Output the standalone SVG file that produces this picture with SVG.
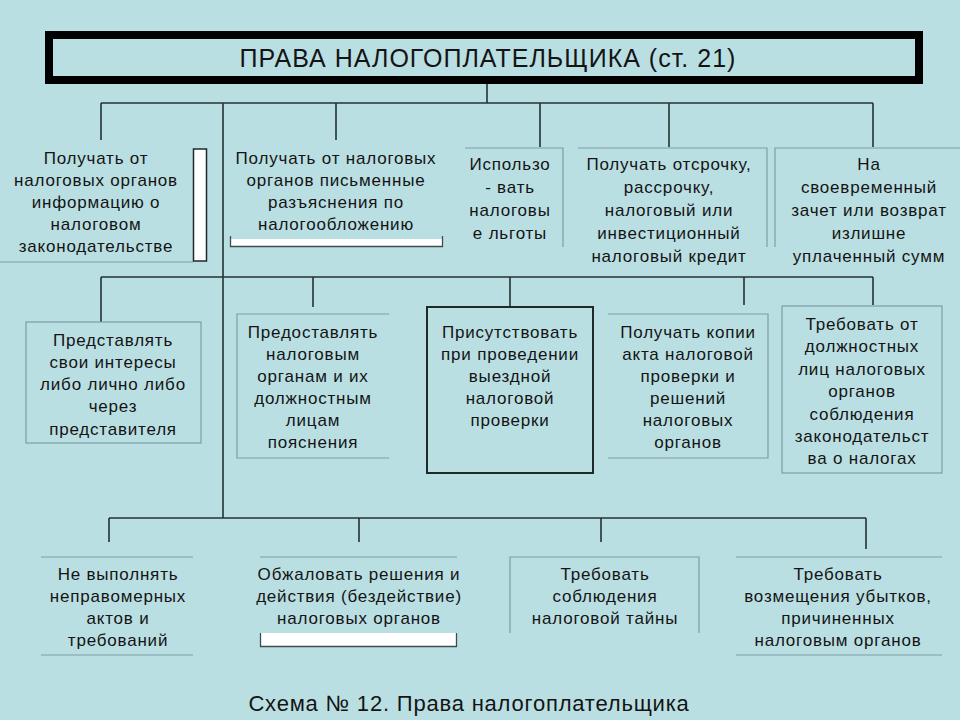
<svg xmlns="http://www.w3.org/2000/svg" width="960" height="720" viewBox="0 0 960 720">
<style>
.bg{fill:#badfe3}
text{font-family:"Liberation Sans",Arial,sans-serif;fill:#141414;text-anchor:middle}
.t{font-size:17px;letter-spacing:0.8px}
.title{font-size:25px;letter-spacing:1px}
.cap{font-size:22px;letter-spacing:0.8px}
.c{stroke:#253333;stroke-width:1.6;fill:none}
.g{stroke:#7d9ea2;stroke-width:1.2;fill:none}
.d{stroke:#3c4e50;stroke-width:1.3;fill:none}
.w{fill:#ffffff;stroke:#1e2a2a;stroke-width:1.5}
</style>
<rect class="bg" x="0" y="0" width="960" height="720"/>
<g id="connectors">
<path class="c" d="M487 84V103M101 103H873M101 103V140M223 103V518M336 103V140M540 103V147M669 103V147M873 103V147"/>
<path class="c" d="M101 277H873M101 277V322M313 277V307M510 277V307M744 277V305M873 277V305"/>
<path class="c" d="M109 518H866M109 518V542M359 518V542M601 518V542M866 518V549"/>
</g>
<g id="title">
<rect x="49" y="35" width="870" height="45" fill="none" stroke="#000" stroke-width="8"/>
<text class="title" x="488" y="67">ПРАВА НАЛОГОПЛАТЕЛЬЩИКА (ст. 21)</text>
</g>
<g id="n1">
<path class="g" d="M0 262H193"/>
<rect class="w" x="193.5" y="149" width="13" height="112"/>
<text class="t" x="96"><tspan x="96" y="164">Получать от</tspan><tspan x="96" y="186">налоговых органов</tspan><tspan x="96" y="208">информацию о</tspan><tspan x="96" y="230">налоговом</tspan><tspan x="96" y="252">законодательстве</tspan></text>
</g>
<g id="n2">
<rect x="230.5" y="239" width="212" height="7" fill="#fff"/>
<path class="d" d="M230.5 236V246.5H442.5V236"/>
<text class="t" x="336"><tspan x="336" y="164">Получать от налоговых</tspan><tspan x="336" y="186">органов письменные</tspan><tspan x="336" y="208">разъяснения по</tspan><tspan x="336" y="230">налогообложению</tspan></text>
</g>
<g id="n3">
<path class="g" d="M465 148H563V247"/>
<text class="t" x="510"><tspan x="510" y="170">Использо</tspan><tspan x="510" y="193">- вать</tspan><tspan x="510" y="216">налоговы</tspan><tspan x="510" y="239">е льготы</tspan></text>
</g>
<g id="n4">
<path class="g" d="M578 148H767V247"/>
<text class="t" x="669"><tspan x="669" y="170">Получать отсрочку,</tspan><tspan x="669" y="193">рассрочку,</tspan><tspan x="669" y="216">налоговый или</tspan><tspan x="669" y="239">инвестиционный</tspan><tspan x="669" y="262">налоговый кредит</tspan></text>
</g>
<g id="n5">
<path class="g" d="M775 247V148H960"/>
<text class="t" x="869"><tspan x="869" y="170">На</tspan><tspan x="869" y="193">своевременный</tspan><tspan x="869" y="216">зачет или возврат</tspan><tspan x="869" y="239">излишне</tspan><tspan x="869" y="262">уплаченный сумм</tspan></text>
</g>
<g id="n6">
<rect class="g" x="26" y="322" width="175" height="121"/>
<text class="t" x="113"><tspan x="113" y="346">Представлять</tspan><tspan x="113" y="368">свои интересы</tspan><tspan x="113" y="390">либо лично либо</tspan><tspan x="113" y="412">через</tspan><tspan x="113" y="435">представителя</tspan></text>
</g>
<g id="n7">
<path class="g" d="M389 314H237V458H389"/>
<text class="t" x="313"><tspan x="313" y="338">Предоставлять</tspan><tspan x="313" y="360">налоговым</tspan><tspan x="313" y="382">органам и их</tspan><tspan x="313" y="404">должностным</tspan><tspan x="313" y="426">лицам</tspan><tspan x="313" y="448">пояснения</tspan></text>
</g>
<g id="n8">
<rect x="427" y="307" width="166" height="166" fill="none" stroke="#1e2a2a" stroke-width="2"/>
<text class="t" x="510"><tspan x="510" y="338">Присутствовать</tspan><tspan x="510" y="360">при проведении</tspan><tspan x="510" y="382">выездной</tspan><tspan x="510" y="404">налоговой</tspan><tspan x="510" y="426">проверки</tspan></text>
</g>
<g id="n9">
<path class="g" d="M608 314H768V458H608"/>
<text class="t" x="688"><tspan x="688" y="338">Получать копии</tspan><tspan x="688" y="360">акта налоговой</tspan><tspan x="688" y="382">проверки и</tspan><tspan x="688" y="404">решений</tspan><tspan x="688" y="426">налоговых</tspan><tspan x="688" y="448">органов</tspan></text>
</g>
<g id="n10">
<rect class="g" x="782" y="306" width="160" height="167" stroke="#5f7a7d"/>
<text class="t" x="862"><tspan x="862" y="330">Требовать от</tspan><tspan x="862" y="352">должностных</tspan><tspan x="862" y="375">лиц налоговых</tspan><tspan x="862" y="397">органов</tspan><tspan x="862" y="420">соблюдения</tspan><tspan x="862" y="442">законодательст</tspan><tspan x="862" y="464">ва о налогах</tspan></text>
</g>
<g id="n11">
<path class="g" d="M41 557H193M41 655H193"/>
<text class="t" x="118"><tspan x="118" y="580">Не выполнять</tspan><tspan x="118" y="602">неправомерных</tspan><tspan x="118" y="624">актов и</tspan><tspan x="118" y="646">требований</tspan></text>
</g>
<g id="n12">
<path class="g" d="M260 557H457"/>
<rect x="260.5" y="633" width="196" height="13" fill="#fff"/>
<path class="d" d="M260.5 633V646.5H456.5V633"/>
<text class="t" x="359"><tspan x="359" y="580">Обжаловать решения и</tspan><tspan x="359" y="602">действия (бездействие)</tspan><tspan x="359" y="624">налоговых органов</tspan></text>
</g>
<g id="n13">
<path class="g" d="M510 633V557H699V633"/>
<text class="t" x="605"><tspan x="605" y="580">Требовать</tspan><tspan x="605" y="602">соблюдения</tspan><tspan x="605" y="624">налоговой тайны</tspan></text>
</g>
<g id="n14">
<path class="g" d="M736 557H942M736 655H942"/>
<text class="t" x="838"><tspan x="838" y="580">Требовать</tspan><tspan x="838" y="602">возмещения убытков,</tspan><tspan x="838" y="624">причиненных</tspan><tspan x="838" y="646">налоговым органов</tspan></text>
</g>
<text class="cap" x="469" y="711">Схема № 12. Права налогоплательщика</text>
</svg>
